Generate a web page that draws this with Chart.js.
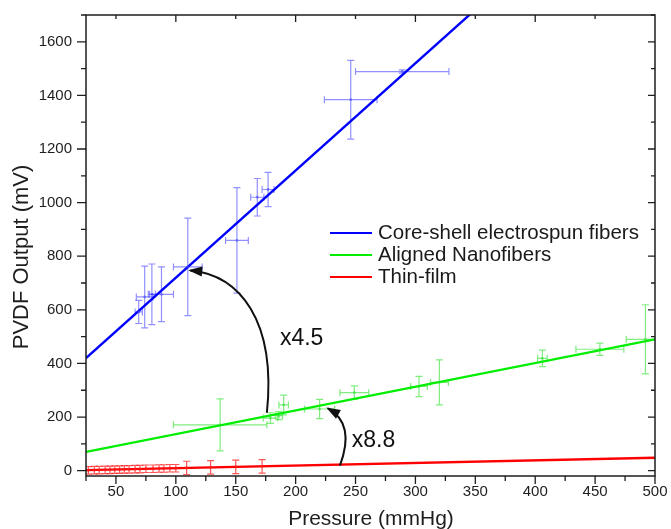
<!DOCTYPE html>
<html>
<head>
<meta charset="utf-8">
<script src="https://cdn.jsdelivr.net/npm/chart.js@4.4.1/dist/chart.umd.min.js"></script>
<style>
  html, body { margin: 0; padding: 0; background: #fff; }
  #wrap { width: 671px; height: 529px; }
</style>
</head>
<body>
<div id="wrap"><canvas id="chart"></canvas></div>
<script>
// core-shell electrospun fibers (blue)
const blueX = [69, 74, 80, 88, 110, 151, 168, 177, 246, 289];
const blueY = [592, 648, 658, 658, 760, 859, 1020, 1049, 1384, 1489];
const blueXErr = [3, 7, 3, 10, 12, 9.5, 5.5, 5, 22, 39];
const blueYErr = [43, 115, 113, 102, 182, 197, 70, 64, 147, 6];

// aligned nanofibers (green)
const greenX = [137, 179, 186, 190, 220, 249, 303, 320, 406, 454, 492];
const greenY = [171, 196, 205, 245, 230, 291, 314, 329, 419, 453, 490];
const greenXErr = [39, 6, 3, 4, 12.5, 12, 7, 7.5, 4, 20, 16];
const greenYErr = [97, 20, 15, 37, 36, 25, 38, 84, 31, 23, 129];

// thin-film (red)
const redX = [27, 32, 36, 41, 45, 49, 53, 57, 61, 66, 70, 75, 81, 86, 90, 95, 100, 109, 129, 150, 172];
const redY = [1, 2, 2, 3, 3, 4, 4, 5, 5, 6, 6, 7, 7, 8, 8, 9, 9, 10, 12, 14, 16];
const redXErr = [1, 1, 1, 1, 1, 1, 1, 1, 1, 1, 1, 1, 1, 1, 1, 1, 1, 1, 1, 1, 1];
const redYErr = [14, 14, 14, 14, 14, 14, 14, 14, 14, 14, 14, 14, 14, 14, 14, 14, 14, 25, 25, 25, 25];

// linear fits, evaluated at the axis ends
const fitX = [25, 500];
const blueFit = [420, 2320];
const greenFit = [70, 490];
const redFit = [2, 48];

const legendLabels = ['Core-shell electrospun fibers', 'Aligned Nanofibers', 'Thin-film'];
const xTitle = 'Pressure (mmHg)';
const yTitle = 'PVDF Output (mV)';

const toPoints = (xs, ys) => xs.map((v, i) => ({ x: v, y: ys[i] }));

const AXIS = '#1e1e1e';
const FONT = '"Liberation Sans", Arial, Helvetica, sans-serif';

// error bars, frame, ticks, legend and the two arrows
const decor = {
  id: 'decor',
  beforeDatasetsDraw(chart) {
    const { ctx, chartArea: a, scales: { x, y } } = chart;
    ctx.save();
    ctx.beginPath();
    ctx.rect(a.left, a.top, a.right - a.left, a.bottom - a.top);
    ctx.clip();
    chart.data.datasets.forEach((ds) => {
      if (!ds.xErr) return;
      ctx.strokeStyle = ds.errColor;
      ctx.lineWidth = 1.2;
      ds.data.forEach((p, i) => {
        const px = x.getPixelForValue(p.x);
        const py = y.getPixelForValue(p.y);
        const x0 = x.getPixelForValue(p.x - ds.xErr[i]);
        const x1 = x.getPixelForValue(p.x + ds.xErr[i]);
        const y0 = y.getPixelForValue(p.y - ds.yErr[i]);
        const y1 = y.getPixelForValue(p.y + ds.yErr[i]);
        const c = 3.5;
        ctx.beginPath();
        ctx.moveTo(px, y0); ctx.lineTo(px, y1);
        ctx.moveTo(px - c, y0); ctx.lineTo(px + c, y0);
        ctx.moveTo(px - c, y1); ctx.lineTo(px + c, y1);
        if (x1 - x0 > 3) {
          ctx.moveTo(x0, py); ctx.lineTo(x1, py);
          ctx.moveTo(x0, py - c); ctx.lineTo(x0, py + c);
          ctx.moveTo(x1, py - c); ctx.lineTo(x1, py + c);
        }
        ctx.stroke();
      });
    });
    ctx.restore();
  },
  afterDraw(chart) {
    const { ctx, chartArea: a, scales: { x, y } } = chart;
    ctx.save();
    ctx.strokeStyle = AXIS;
    ctx.lineWidth = 1.5;
    ctx.strokeRect(a.left, a.top, a.right - a.left, a.bottom - a.top);

    ctx.lineWidth = 1.3;
    ctx.beginPath();
    for (let v = 25; v <= 500; v += 25) {
      const px = x.getPixelForValue(v);
      const major = v % 50 === 0;
      ctx.moveTo(px, a.bottom); ctx.lineTo(px, a.bottom + (major ? 8 : 5));
      if (major && v < 500) {
        ctx.moveTo(px, a.top); ctx.lineTo(px, a.top + (v % 100 === 0 ? 7 : 4));
      }
    }
    for (let v = 0; v <= 1700; v += 100) {
      const py = y.getPixelForValue(v);
      const major = v % 200 === 0;
      ctx.moveTo(a.left, py); ctx.lineTo(a.left - (major ? 9 : 5), py);
      ctx.moveTo(a.right, py); ctx.lineTo(a.right - (major ? 7 : 4), py);
    }
    ctx.stroke();

    // axis titles
    ctx.fillStyle = AXIS;
    ctx.font = `21px ${FONT}`;
    ctx.textAlign = 'center';
    ctx.textBaseline = 'middle';
    ctx.fillText(xTitle, 371, 519);
    ctx.save();
    ctx.translate(22, 257);
    ctx.rotate(-Math.PI / 2);
    ctx.font = `22px ${FONT}`;
    ctx.fillText(yTitle, 0, 0);
    ctx.restore();

    // legend
    const colors = ['#0000ff', '#00ee00', '#ff0000'];
    ctx.font = `20.5px ${FONT}`;
    ctx.textAlign = 'left';
    legendLabels.forEach((label, i) => {
      const ly = 233 + i * 22;
      ctx.strokeStyle = colors[i];
      ctx.lineWidth = 2;
      ctx.beginPath();
      ctx.moveTo(330, ly); ctx.lineTo(372, ly);
      ctx.stroke();
      ctx.fillStyle = '#1a1a1a';
      ctx.fillText(label, 378, ly);
    });

    // arrows, anchored in data units
    const P = (vx, vy) => [x.getPixelForValue(vx), y.getPixelForValue(vy)];
    const arrow = (pts) => {
      const [p0, p1, p2, p3] = pts.map((p) => P(p[0], p[1]));
      ctx.strokeStyle = '#111';
      ctx.lineWidth = 2;
      ctx.beginPath();
      ctx.moveTo(p0[0], p0[1]);
      ctx.bezierCurveTo(p1[0], p1[1], p2[0], p2[1], p3[0], p3[1]);
      ctx.stroke();
      const ang = Math.atan2(p3[1] - p2[1], p3[0] - p2[0]);
      const len = 12, half = 5;
      const bx = p3[0] - len * Math.cos(ang), by = p3[1] - len * Math.sin(ang);
      ctx.fillStyle = '#111';
      ctx.beginPath();
      ctx.moveTo(p3[0] + 2 * Math.cos(ang), p3[1] + 2 * Math.sin(ang));
      ctx.lineTo(bx + half * Math.sin(ang), by - half * Math.cos(ang));
      ctx.lineTo(bx - half * Math.sin(ang), by + half * Math.cos(ang));
      ctx.closePath();
      ctx.fill();
    };
    arrow([[176, 216], [184, 561], [153, 731], [112, 747]]);
    arrow([[237, 19], [245, 115], [244, 190], [227, 232]]);

    ctx.fillStyle = '#111';
    ctx.font = `23px ${FONT}`;
    ctx.textAlign = 'center';
    ctx.fillText('x4.5', x.getPixelForValue(205), y.getPixelForValue(491));
    ctx.fillText('x8.8', x.getPixelForValue(265), y.getPixelForValue(112));
    ctx.restore();
  },
};

const pointSet = (xs, ys, xe, ye, color) => ({
  data: toPoints(xs, ys),
  xErr: xe,
  yErr: ye,
  errColor: color,
  showLine: false,
  pointRadius: 1.4,
  pointBackgroundColor: color,
  pointBorderWidth: 0,
});

const fitSet = (ys, color) => ({
  data: toPoints(fitX, ys),
  showLine: true,
  borderColor: color,
  borderWidth: 2.4,
  pointRadius: 0,
});

new Chart(document.getElementById('chart'), {
  type: 'scatter',
  data: {
    datasets: [
      pointSet(blueX, blueY, blueXErr, blueYErr, 'rgba(70, 70, 255, 0.6)'),
      pointSet(greenX, greenY, greenXErr, greenYErr, 'rgba(40, 225, 40, 0.6)'),
      pointSet(redX, redY, redXErr, redYErr, 'rgba(255, 30, 30, 0.75)'),
      fitSet(blueFit, '#0000ff'),
      fitSet(greenFit, '#00ee00'),
      fitSet(redFit, '#ff0000'),
    ],
  },
  options: {
    responsive: true,
    maintainAspectRatio: false,
    animation: false,
    layout: { padding: { left: 0, top: 15, right: 16, bottom: 0 } },
    plugins: { legend: { display: false }, tooltip: { enabled: false } },
    scales: {
      x: {
        type: 'linear',
        min: 25,
        max: 500,
        grid: { display: false, drawTicks: false },
        border: { display: false },
        ticks: {
          stepSize: 50,
          padding: 7,
          color: AXIS,
          font: { family: FONT, size: 15 },
          callback: (v) => (v % 50 === 0 ? v : ''),
        },
        afterFit: (scale) => {
          scale.height = 53;
          scale.paddingLeft = 0;
          scale.paddingRight = 0;
        },
      },
      y: {
        type: 'linear',
        min: -20,
        max: 1700,
        grid: { display: false, drawTicks: false },
        border: { display: false },
        ticks: {
          stepSize: 200,
          includeBounds: false,
          padding: 14,
          color: AXIS,
          font: { family: FONT, size: 15 },
          callback: (v) => (v % 200 === 0 && v >= 0 && v <= 1600 ? v : ''),
        },
        afterFit: (scale) => {
          scale.width = 86;
          scale.paddingTop = 0;
          scale.paddingBottom = 0;
        },
      },
    },
  },
  plugins: [decor],
});
</script>
</body>
</html>
